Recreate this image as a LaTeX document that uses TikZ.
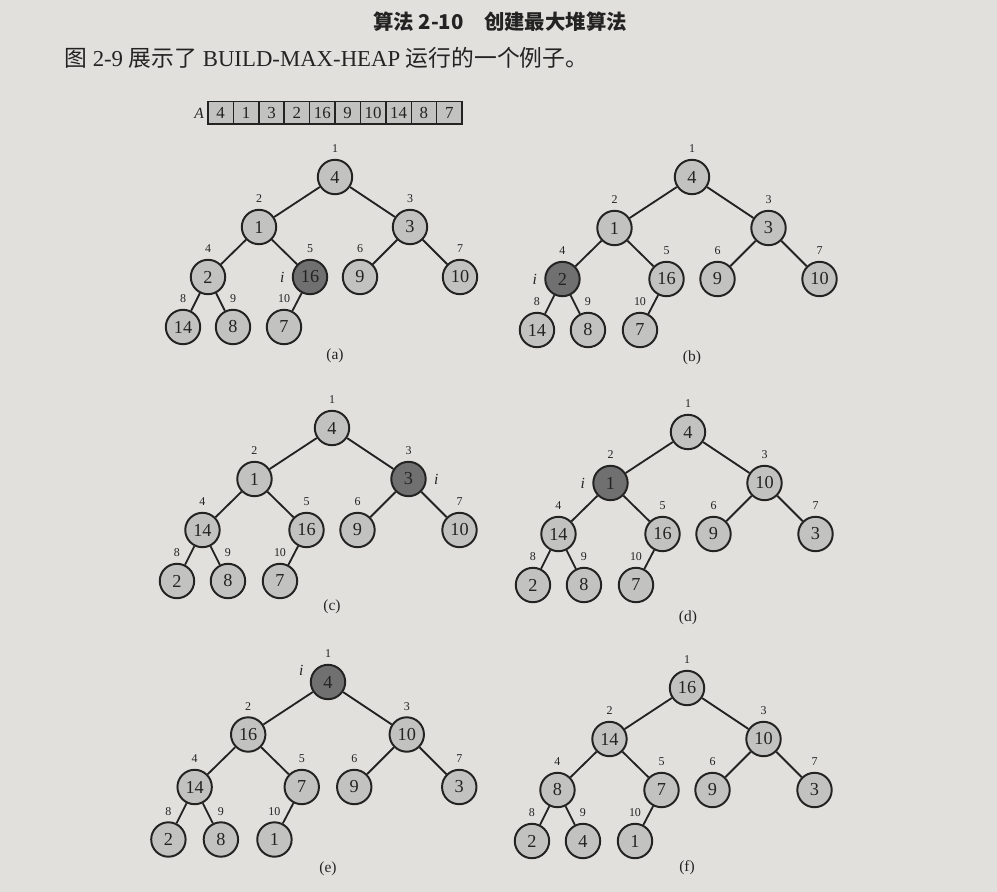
\documentclass[tikz,border=0pt]{standalone}
\usepackage{fontspec}
\setmainfont{Liberation Serif}
\newfontfamily\cjk{Noto Sans CJK SC}
\usepackage{tikz}
\usetikzlibrary{calc}

\definecolor{paper}{RGB}{226,224,220}
\definecolor{keyfill}{RGB}{194,194,192}
\definecolor{hotfill}{RGB}{112,112,112}
\definecolor{ink}{RGB}{35,35,35}

\tikzset{
  key/.style={circle, draw=ink, line width=1.4pt, fill=keyfill, minimum size=0.86cm, inner sep=0pt, text=ink, font=\fontsize{13}{13}\selectfont},
  hotkey/.style={key, fill=hotfill},
  idx/.style={inner sep=0pt, text=ink, font=\fontsize{8.5}{9}\selectfont},
  imark/.style={inner sep=0pt, text=ink, font=\fontsize{11}{12}\selectfont\itshape},
  capt/.style={inner sep=0pt, text=ink, font=\fontsize{11}{12}\selectfont},
  cell/.style={draw=ink, line width=1pt, fill=keyfill, minimum width=0.635cm, minimum height=0.56cm, inner sep=0pt, text=ink, font=\fontsize{12}{12}\selectfont},
  edge/.style={draw=ink, line width=1.3pt}
}

\def\dxs{{0,-76,75,-127,-25,25,125,-152,-102,-51}}
\def\dys{{0,50,50,100,100,100,100,150,150,150}}

\begin{document}
\begin{tikzpicture}[x=0.025cm, y=-0.025cm]
\fill[paper] (0,0) rectangle (997,892);
\useasboundingbox (0,0) rectangle (997,892);

\node[text=ink, font=\fontsize{14.5}{17}\selectfont\cjk\bfseries] (title) at (500,22) {算法 2-10\quad 创建最大堆算法};
\node[anchor=west, inner sep=0pt, text=ink, font=\fontsize{16.2}{18}\selectfont] (intro) at (64,58)
  {{\cjk 图} 2-9 {\cjk 展示了} BUILD-MAX-HEAP {\cjk 运行的一个例子。}};

\node[imark] (Alab) at (199,113) {A};
\foreach \v [count=\k] in {4,1,3,2,16,9,10,14,8,7}
  \node[cell] (A\k) at ({208+25.4*(\k-0.5)},113) {\v};

\foreach \t/\ox/\oy/\s/\cy/\vals/\hot/\side in {
  a/335/177/1.0/356/{4,1,3,2,16,9,10,14,8,7}/5/180,
  b/692/177/1.02/358/{4,1,3,2,16,9,10,14,8,7}/4/180,
  c/332/428/1.02/607/{4,1,3,14,16,9,10,2,8,7}/3/0,
  d/688/432/1.02/618/{4,1,10,14,16,9,3,2,8,7}/2/180,
  e/328/682/1.05/869/{4,16,10,14,7,9,3,2,8,1}/1/165,
  f/687/688/1.02/868/{16,14,10,8,7,9,3,2,4,1}/0/180}
{
  \foreach \v [count=\k] in \vals {
    \pgfmathsetmacro\px{\ox+\s*\dxs[\k-1]}
    \pgfmathsetmacro\py{\oy+\s*\dys[\k-1]}
    \ifnum\k=\hot
      \node[hotkey, label={[idx, label distance=4pt]above:\k}, label={[imark, label distance=5pt]\side:i}] (\t\k) at (\px,\py) {\v};
    \else
      \node[key, label={[idx, label distance=4pt]above:\k}] (\t\k) at (\px,\py) {\v};
    \fi
  }
  \foreach \c in {2,...,10} {
    \pgfmathtruncatemacro\p{\c/2}
    \draw[edge] (\t\p) -- (\t\c);
  }
  \node[capt] (\t cap) at (\ox,\cy) {(\t)};
}
\end{tikzpicture}
\end{document}
